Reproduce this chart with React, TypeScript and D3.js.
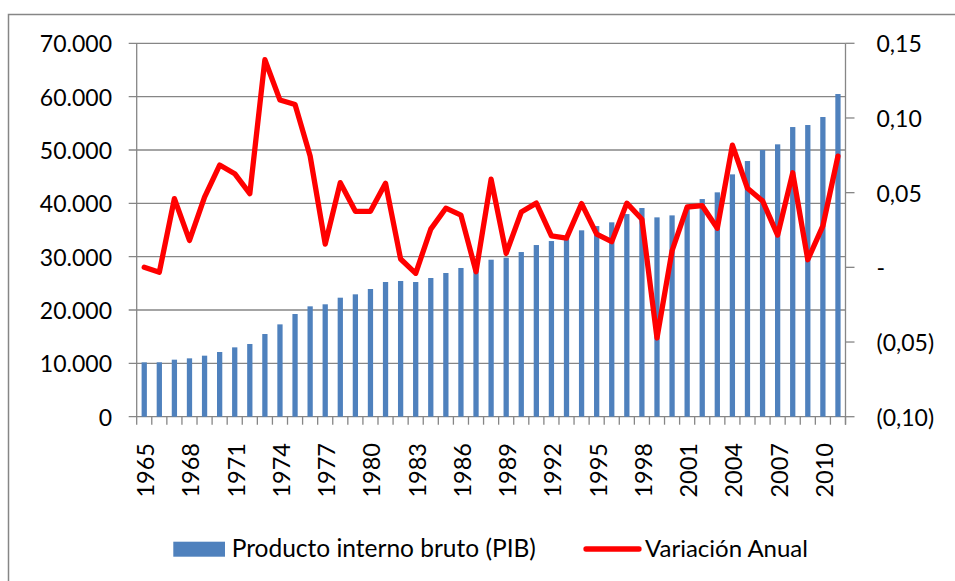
import React, { useEffect, useRef } from "react";
import * as d3 from "d3";

const years = d3.range(1965, 2012).map(String);

// PIB (left axis)
const pib = [
  10190, 10200, 10690, 10940, 11440, 12130, 13000, 13630, 15500, 17310,
  19250, 20690, 21070, 22310, 22940, 23940, 25250, 25440, 25250, 26000,
  26940, 27880, 27800, 29430, 29800, 30870, 32180, 32930, 33440, 34940,
  35740, 36440, 37990, 39120, 37370, 37740, 39300, 40800, 42060, 45430,
  47930, 49990, 51060, 54300, 54680, 56180, 60490,
];

// Variación anual (right axis)
const variacion = [
  0.0, -0.0033, 0.046, 0.018, 0.047, 0.0685, 0.0627, 0.0493, 0.139, 0.112,
  0.109, 0.0745, 0.0156, 0.0567, 0.0375, 0.0375, 0.0563, 0.0056, -0.004, 0.0256,
  0.0396, 0.035, -0.0029, 0.059, 0.0093, 0.037, 0.043, 0.021, 0.0196, 0.0427,
  0.0222, 0.0172, 0.043, 0.0322, -0.0473, 0.0111, 0.0404, 0.0413, 0.0262, 0.0818,
  0.0529, 0.0445, 0.0216, 0.0633, 0.0051, 0.0278, 0.0745,
];

const leftTicks = [0, 10000, 20000, 30000, 40000, 50000, 60000, 70000];
const rightTicks = [0.15, 0.1, 0.05, 0, -0.05, -0.1];
const rightLabels = ["0,15", "0,10", "0,05", "-", "(0,05)", "(0,10)"];

const FONT = "Lato, 'Open Sans', sans-serif";
const GRID = "#868686";
const BLUE = "#4F81BD";
const RED = "#FF0000";

const App = () => {
  const svgRef = useRef(null);

  useEffect(() => {
    const svg = d3.select(svgRef.current);
    svg.selectAll("*").remove();

    const width = 955;
    const height = 581;
    const plot = { left: 136.7, right: 845.5, top: 43.3, bottom: 416.7 };

    // marco exterior
    svg
      .append("rect")
      .attr("x", 8.5)
      .attr("y", 14.5)
      .attr("width", width)
      .attr("height", height)
      .attr("fill", "white")
      .attr("stroke", GRID)
      .attr("stroke-width", 1.5);

    const x = d3
      .scaleBand()
      .domain(years)
      .range([plot.left, plot.right])
      .paddingInner(0.65)
      .paddingOuter(0.325);

    const xb = d3.scaleBand().domain(years).range([plot.left, plot.right]);

    const y = d3.scaleLinear().domain([0, 70000]).range([plot.bottom, plot.top]);
    const y2 = d3.scaleLinear().domain([-0.1, 0.15]).range([plot.bottom, plot.top]);

    // líneas de cuadrícula
    svg
      .append("g")
      .selectAll("line")
      .data(leftTicks)
      .enter()
      .append("line")
      .attr("x1", plot.left - 8)
      .attr("x2", plot.right)
      .attr("y1", (d) => y(d))
      .attr("y2", (d) => y(d))
      .attr("stroke", GRID)
      .attr("stroke-width", 1.3);

    // etiquetas eje izquierdo
    svg
      .append("g")
      .selectAll("text")
      .data(leftTicks)
      .enter()
      .append("text")
      .attr("x", 112)
      .attr("y", (d) => y(d))
      .attr("text-anchor", "end")
      .attr("dominant-baseline", "central")
      .style("font-family", FONT)
      .style("font-size", "23px")
      .attr("fill", "#000")
      .text((d) => (d === 0 ? "0" : d3.format(",")(d).replace(/,/g, ".")));

    // barras PIB
    svg
      .append("g")
      .selectAll("rect")
      .data(pib)
      .enter()
      .append("rect")
      .attr("x", (d, i) => x(years[i]))
      .attr("y", (d) => y(d))
      .attr("width", x.bandwidth())
      .attr("height", (d) => plot.bottom - y(d))
      .attr("fill", BLUE);

    // ejes
    svg
      .append("line")
      .attr("x1", plot.left)
      .attr("x2", plot.left)
      .attr("y1", plot.top)
      .attr("y2", plot.bottom)
      .attr("stroke", GRID)
      .attr("stroke-width", 1.3);

    svg
      .append("line")
      .attr("x1", plot.right)
      .attr("x2", plot.right)
      .attr("y1", plot.top)
      .attr("y2", plot.bottom + 8)
      .attr("stroke", GRID)
      .attr("stroke-width", 1.3);

    // marcas eje x
    const xTicks = years.map((yr) => xb(yr)).concat([plot.right]);
    svg
      .append("g")
      .selectAll("line")
      .data(xTicks)
      .enter()
      .append("line")
      .attr("x1", (d) => d)
      .attr("x2", (d) => d)
      .attr("y1", plot.bottom)
      .attr("y2", plot.bottom + 8)
      .attr("stroke", GRID)
      .attr("stroke-width", 1.3);

    // marcas eje derecho
    svg
      .append("g")
      .selectAll("line")
      .data(rightTicks)
      .enter()
      .append("line")
      .attr("x1", plot.right)
      .attr("x2", plot.right + 9)
      .attr("y1", (d) => y2(d))
      .attr("y2", (d) => y2(d))
      .attr("stroke", GRID)
      .attr("stroke-width", 1.3);

    svg
      .append("g")
      .selectAll("text")
      .data(rightTicks)
      .enter()
      .append("text")
      .attr("x", 876.5)
      .attr("y", (d) => y2(d))
      .attr("dominant-baseline", "central")
      .style("font-family", FONT)
      .style("font-size", "23px")
      .attr("fill", "#000")
      .text((d, i) => rightLabels[i]);

    // etiquetas años
    svg
      .append("g")
      .selectAll("text")
      .data(years.filter((d, i) => i % 3 === 0))
      .enter()
      .append("text")
      .attr(
        "transform",
        (d) => `translate(${xb(d) + xb.bandwidth() / 2 + 1},443) rotate(-90)`
      )
      .attr("text-anchor", "end")
      .attr("dominant-baseline", "central")
      .style("font-family", FONT)
      .style("font-size", "23.5px")
      .attr("fill", "#000")
      .text((d) => d);

    // línea variación anual
    svg
      .append("path")
      .datum(variacion)
      .attr("fill", "none")
      .attr("stroke", RED)
      .attr("stroke-width", 5.3)
      .attr("stroke-linejoin", "round")
      .attr("stroke-linecap", "round")
      .attr(
        "d",
        d3
          .line()
          .x((d, i) => xb(years[i]) + xb.bandwidth() / 2)
          .y((d) => y2(d))
      );

    // leyenda
    svg
      .append("rect")
      .attr("x", 173.3)
      .attr("y", 541.7)
      .attr("width", 51.7)
      .attr("height", 15)
      .attr("fill", BLUE);

    svg
      .append("text")
      .attr("x", 231.7)
      .attr("y", 557)
      .style("font-family", FONT)
      .style("font-size", "24.5px")
      .attr("fill", "#000")
      .text("Producto interno bruto (PIB)");

    svg
      .append("line")
      .attr("x1", 586)
      .attr("x2", 639)
      .attr("y1", 549)
      .attr("y2", 549)
      .attr("stroke", RED)
      .attr("stroke-width", 5.3)
      .attr("stroke-linecap", "round");

    svg
      .append("text")
      .attr("x", 645)
      .attr("y", 557)
      .style("font-family", FONT)
      .style("font-size", "24px")
      .attr("fill", "#000")
      .text("Variación Anual");
  }, []);

  return (
    <svg
      ref={svgRef}
      width={955}
      height={581}
      style={{ position: "absolute", left: 0, top: 0, display: "block" }}
    ></svg>
  );
};

export default App;
